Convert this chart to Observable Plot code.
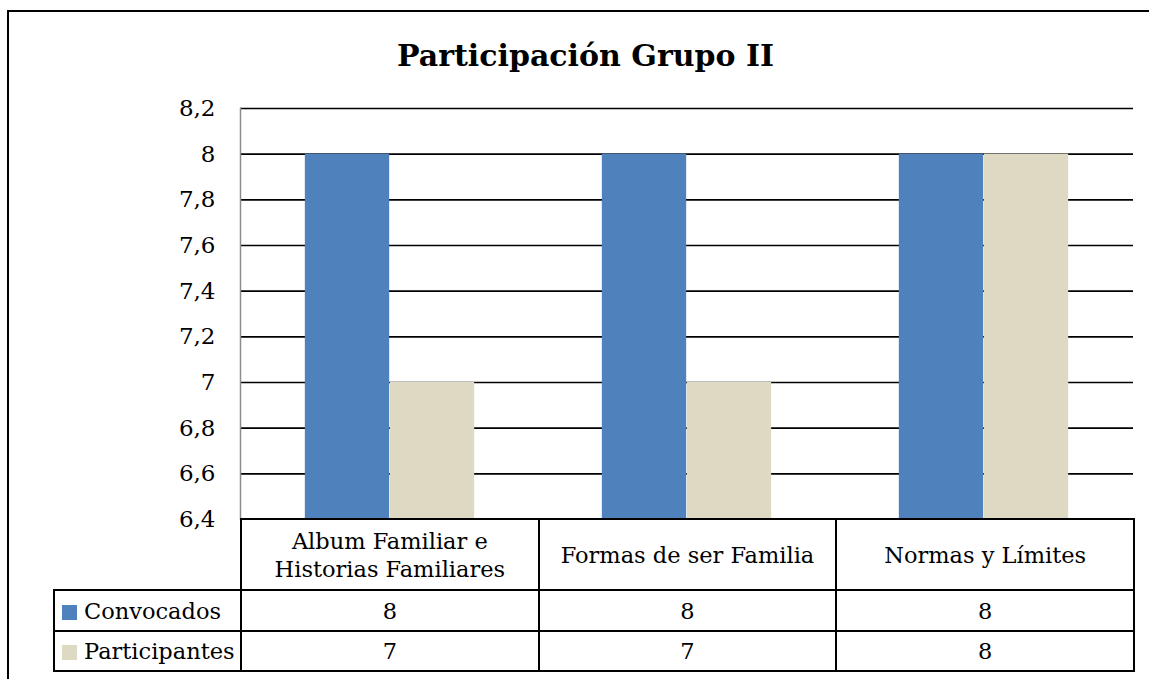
<!DOCTYPE html>
<html>
<head>
<meta charset="utf-8">
<script src="https://cdn.jsdelivr.net/npm/d3@7"></script>
<script src="https://cdn.jsdelivr.net/npm/@observablehq/plot@0.6"></script>
<style>
  html, body { margin: 0; padding: 0; background: #fff; }
  #wrap { position: relative; width: 1149px; height: 679px; overflow: hidden; font-family: "DejaVu Serif", serif; color: #000; }
  #frameTop { position: absolute; left: 8px; top: 10px; right: 0; height: 2px; background: #000; }
  #frameLeft { position: absolute; left: 7px; top: 10px; bottom: 0; width: 2px; background: #000; }
  #title { position: absolute; left: 22px; width: 1127px; top: 36px; text-align: center; font-weight: bold; font-size: 30px; line-height: 40px; white-space: nowrap; }
  #chart { position: absolute; left: 0; top: 0; }
  #table { position: absolute; left: 53px; top: 518px; border-collapse: collapse; font-size: 22.5px; table-layout: fixed; }
  #table td { border: 2px solid #000; padding: 0; text-align: center; vertical-align: middle; white-space: nowrap; }
  #table td.blank { border: none; }
  #table td.lab { text-align: left; padding-left: 7px; }
  .sw { display: inline-block; width: 15px; height: 15px; margin-right: 7px; vertical-align: -1px; }
</style>
</head>
<body>
<div id="wrap">
  <div id="frameTop"></div>
  <div id="frameLeft"></div>
  <div id="chart"></div>
  <div id="title"></div>
  <table id="table"></table>
</div>
<script>
const titleText = "Participación Grupo II";
const categories = ["Album Familiar e Historias Familiares", "Formas de ser Familia", "Normas y Límites"];
const categoryLines = [["Album Familiar e", "Historias Familiares"], ["Formas de ser Familia"], ["Normas y Límites"]];
const series = ["Convocados", "Participantes"];
const convocados = [8, 8, 8];
const participantes = [7, 7, 8];
const yTicks = [6.4, 6.6, 6.8, 7, 7.2, 7.4, 7.6, 7.8, 8, 8.2];
const seriesColors = ["#4F81BD", "#DDD9C3"];

document.getElementById("title").textContent = titleText;

const values = [convocados, participantes];
const data = [];
series.forEach((s, si) => categories.forEach((c, ci) => data.push({series: s, category: c, value: values[si][ci]})));

const W = 1149, H = 679;
const mL = 240, mR = 16, mT = 108, mB = 160;
const band = (W - mL - mR) / categories.length;
const barW = 85;
const outer = band / 2 - barW;
const fmt = d => String(d).replace(".", ",");

const chart = Plot.plot({
  width: W, height: H,
  marginLeft: mL, marginRight: mR, marginTop: mT, marginBottom: mB,
  style: {fontFamily: "DejaVu Serif, serif", background: "transparent", overflow: "visible"},
  x: {domain: categories, padding: 0, axis: null},
  y: {domain: [6.4, 8.2], axis: null},
  color: {domain: series, range: seriesColors},
  marks: [
    Plot.ruleY(yTicks.filter(t => t > 6.4), {stroke: "#000", strokeWidth: 1.6}),
    Plot.frame({anchor: "left", stroke: "#8c8c8c", strokeWidth: 1.5}),
    Plot.barY(data.filter(d => d.series === series[0]), {x: "category", y1: 6.4, y2: "value", fill: "series", insetLeft: outer, insetRight: band / 2}),
    Plot.barY(data.filter(d => d.series === series[1]), {x: "category", y1: 6.4, y2: "value", fill: "series", insetLeft: band / 2, insetRight: outer}),
    Plot.axisY({ticks: yTicks, tickFormat: fmt, tickSize: 0, tickPadding: 25, fontSize: 23, fill: "#000", label: null})
  ]
});
document.getElementById("chart").appendChild(chart);

// data table under the plot
const table = document.getElementById("table");
const firstW = mL - 53;
const colgroup = document.createElement("colgroup");
[firstW, band, band, band].forEach(w => { const c = document.createElement("col"); c.style.width = w + "px"; colgroup.appendChild(c); });
table.appendChild(colgroup);
table.style.width = (firstW + band * 3) + "px";

const hdr = document.createElement("tr");
hdr.style.height = "71px";
const blank = document.createElement("td"); blank.className = "blank"; hdr.appendChild(blank);
categoryLines.forEach(lines => {
  const td = document.createElement("td");
  td.style.lineHeight = "28px";
  td.innerHTML = lines.map(l => l.replace(/&/g, "&amp;")).join("<br>");
  hdr.appendChild(td);
});
table.appendChild(hdr);

series.forEach((s, si) => {
  const tr = document.createElement("tr");
  tr.style.height = si === 0 ? "41px" : "40px";
  const lab = document.createElement("td"); lab.className = "lab";
  const sw = document.createElement("span"); sw.className = "sw"; sw.style.background = seriesColors[si];
  lab.appendChild(sw);
  lab.appendChild(document.createTextNode(s));
  tr.appendChild(lab);
  values[si].forEach(v => { const td = document.createElement("td"); td.textContent = fmt(v); tr.appendChild(td); });
  table.appendChild(tr);
});
</script>
</body>
</html>
